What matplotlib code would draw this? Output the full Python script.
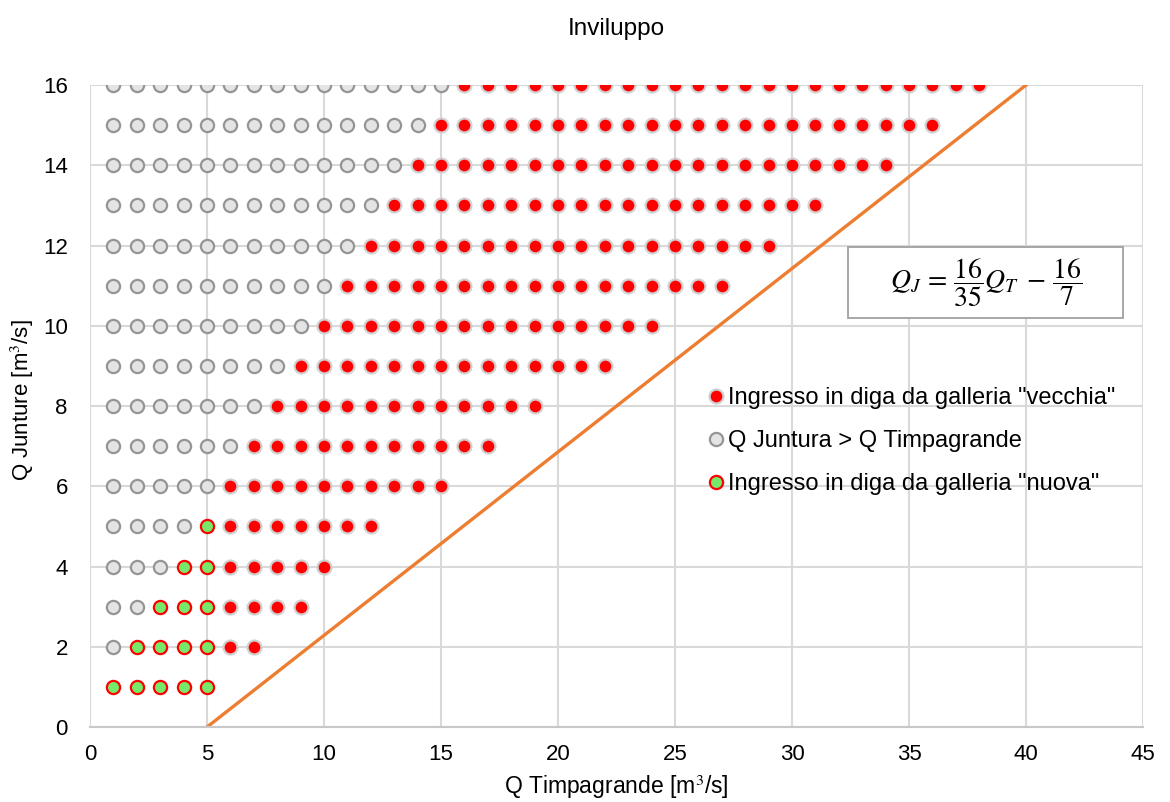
import numpy as np
import matplotlib
matplotlib.use("Agg")
import matplotlib.pyplot as plt
from matplotlib.patches import Rectangle

plt.rcParams['font.family'] = ['Liberation Sans', 'DejaVu Sans']
plt.rcParams['mathtext.fontset'] = 'stix'

# data: one row per Q Junture value
q_junture = [1, 2, 3, 4, 5, 6, 7, 8, 9, 10, 11, 12, 13, 14, 15, 16]
grey_last = [0, 1, 2, 3, 4, 5, 6, 7, 8, 9, 10, 11, 12, 13, 14, 15]   # grey from 1 to this
green_last = [5, 5, 5, 5, 5, 0, 0, 0, 0, 0, 0, 0, 0, 0, 0, 0]        # green after grey up to this
red_last = [0, 7, 9, 10, 12, 15, 17, 19, 22, 24, 27, 29, 31, 34, 36, 38]

# envelope line Q_J = 16/35 Q_T - 16/7
line_qt = np.array([5, 40])
line_qj = 16 / 35 * line_qt - 16 / 7

grey_x, grey_y, green_x, green_y, red_x, red_y = [], [], [], [], [], []
for y, g, gr, r in zip(q_junture, grey_last, green_last, red_last):
    for x in range(1, g + 1):
        grey_x.append(x); grey_y.append(y)
    for x in range(g + 1, gr + 1):
        green_x.append(x); green_y.append(y)
    start = max(g, gr) + 1
    for x in range(start, r + 1):
        red_x.append(x); red_y.append(y)

fig = plt.figure(figsize=(11.7, 8.02), dpi=100)
ax = fig.add_axes([0.077, 0.0935, 0.9, 0.8005])

ax.plot(line_qt, line_qj, color='#ED7D31', lw=2.4, zorder=2)

ax.plot(red_x, red_y, ls='', marker='o', ms=10, mfc='#ff0000', mec='#d0d0d0',
        mew=1.6, zorder=3, label='Ingresso in diga da galleria "vecchia"')
ax.plot(grey_x, grey_y, ls='', marker='o', ms=9.5, mfc='#e4e4e4', mec='#959595',
        mew=1.6, zorder=3, label='Q Juntura > Q Timpagrande')
ax.plot(green_x, green_y, ls='', marker='o', ms=9.5, mfc='#77e96a', mec='#ff0000',
        mew=1.6, zorder=3, label='Ingresso in diga da galleria "nuova"')

ax.set_xlim(0, 45)
ax.set_ylim(0, 16)
ax.set_xticks(range(0, 46, 5))
ax.set_yticks(range(0, 17, 2))
ax.grid(True, color='#d9d9d9', lw=1.5, zorder=0)
ax.set_axisbelow(True)
for s in ['top', 'right', 'left']:
    ax.spines[s].set_visible(False)
ax.spines['bottom'].set_color('#c8c8c8')
ax.spines['bottom'].set_linewidth(1.5)
ax.tick_params(length=0, labelsize=16)
ax.tick_params(axis='x', pad=12)
ax.tick_params(axis='y', pad=16)

ax.set_xlabel('Q Timpagrande [m$^3$/s]', fontsize=16.5, labelpad=6)
ax.set_ylabel('Q Junture [m$^3$/s]', fontsize=16)
ax.yaxis.label.set_va('center')
ax.yaxis.label.set_ha('center')
ax.yaxis.set_label_coords(-0.064, 0.509)
ax.set_title('Inviluppo', fontsize=17.5, pad=36)

leg = ax.legend(loc='upper left', bbox_to_anchor=(0.607, 0.517), bbox_transform=fig.transFigure,
                frameon=False, fontsize=17, handlelength=0.5, handletextpad=0.25,
                borderpad=0, borderaxespad=0, labelspacing=0.88)

fig.patches.append(Rectangle((848 / 1170, 1 - 318 / 802), 275 / 1170, 71 / 802,
                             transform=fig.transFigure, fc='white', ec='#a0a0a0', lw=1.3,
                             zorder=5))
fig.text(986 / 1170, 1 - 283 / 802, r'$Q_J\,=\,\dfrac{16}{35}Q_T\;-\,\dfrac{16}{7}$',
         fontsize=20, ha='center', va='center', zorder=6)

fig.savefig('out.png', dpi=100)
